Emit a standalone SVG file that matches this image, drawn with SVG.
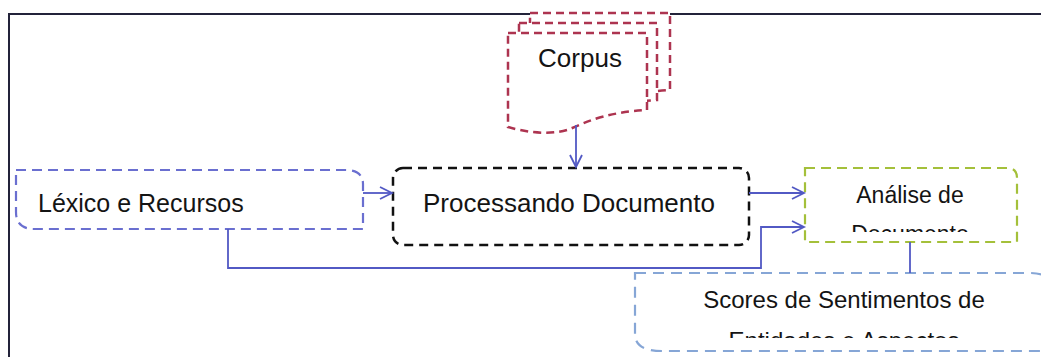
<svg xmlns="http://www.w3.org/2000/svg" width="1041" height="357" viewBox="0 0 1041 357">
  <style>
    .lbl { font-family: "Liberation Sans", Arial, sans-serif; fill: #141414; }
    .page { fill: #ffffff; stroke: #ad3450; stroke-width: 2.5; stroke-dasharray: 8 5; }
    .conn { fill: none; stroke: #5259c4; stroke-width: 1.8; }
  </style>
  <defs>
    <marker id="arrow" markerUnits="userSpaceOnUse" markerWidth="16" markerHeight="16" refX="13" refY="7" orient="auto">
      <path d="M1,1 L13,7 L1,13" fill="none" stroke="#5259c4" stroke-width="1.8"/>
    </marker>
    <clipPath id="clipAnalise"><rect x="806" y="170" width="210" height="62"/></clipPath>
    <clipPath id="clipScores"><rect x="636" y="275" width="405" height="63"/></clipPath>
  </defs>

  <rect x="0" y="0" width="1041" height="357" fill="#ffffff"/>

  <!-- outer frame -->
  <path d="M9,357 V14 H1041" fill="none" stroke="#23233a" stroke-width="2"/>

  <!-- Corpus: stacked document pages -->
  <g id="corpus">
    <path class="page" d="M530,13 H670 V90 C633,92 613,100 592,109 C572,116 547,112 530,107 Z"/>
    <path class="page" d="M519,23 H657 V100 C620,102 600,110 581,119 C561,126 536,122 519,117 Z"/>
    <path class="page" d="M508,33 H647 V110 C610,112 590,120 570,129 C550,136 525,132 508,127 Z"/>
    <text class="lbl" x="580" y="67" font-size="26" text-anchor="middle">Corpus</text>
  </g>

  <!-- Léxico e Recursos -->
  <g id="lexico">
    <path d="M16,170 H345 Q363,170 363,184 V229 H34 Q16,229 16,212 Z" fill="none" stroke="#6a6fd0" stroke-width="2.2" stroke-dasharray="10 6"/>
    <text class="lbl" x="38" y="212" font-size="25">Léxico e Recursos</text>
  </g>

  <!-- Processando Documento -->
  <g id="processando">
    <rect x="393" y="168" width="356" height="77" rx="10" ry="10" fill="none" stroke="#111111" stroke-width="2.5" stroke-dasharray="9 6"/>
    <text class="lbl" x="423" y="212" font-size="26">Processando Documento</text>
  </g>

  <!-- Análise de Documento -->
  <g id="analise">
    <path d="M805,168 H1007 Q1017,168 1017,178 V242 H805 Z" fill="none" stroke="#a4c03a" stroke-width="2.2" stroke-dasharray="10 6"/>
    <g clip-path="url(#clipAnalise)">
      <text class="lbl" x="910" y="203" font-size="23" text-anchor="middle">Análise de</text>
      <text class="lbl" x="910" y="242" font-size="23" text-anchor="middle">Documento</text>
    </g>
  </g>

  <!-- Scores de Sentimentos -->
  <g id="scores">
    <path d="M635,273 H1030 Q1055,273 1055,295 V351 H662 Q635,351 635,334 Z" fill="none" stroke="#86a6d6" stroke-width="2.2" stroke-dasharray="11 7"/>
    <g clip-path="url(#clipScores)">
      <text class="lbl" x="844" y="308" font-size="24" text-anchor="middle">Scores de Sentimentos de</text>
      <text class="lbl" x="844" y="349" font-size="24" text-anchor="middle">Entidades e Aspectos</text>
    </g>
  </g>

  <!-- connectors -->
  <g id="connectors">
    <path class="conn" d="M576,125 V167" marker-end="url(#arrow)"/>
    <path class="conn" d="M363,193 H392" marker-end="url(#arrow)"/>
    <path class="conn" d="M749,193 H804" marker-end="url(#arrow)"/>
    <path class="conn" d="M228,229 V268 H761 V227 H804" marker-end="url(#arrow)"/>
    <path class="conn" d="M910,242 V273"/>
  </g>
</svg>
